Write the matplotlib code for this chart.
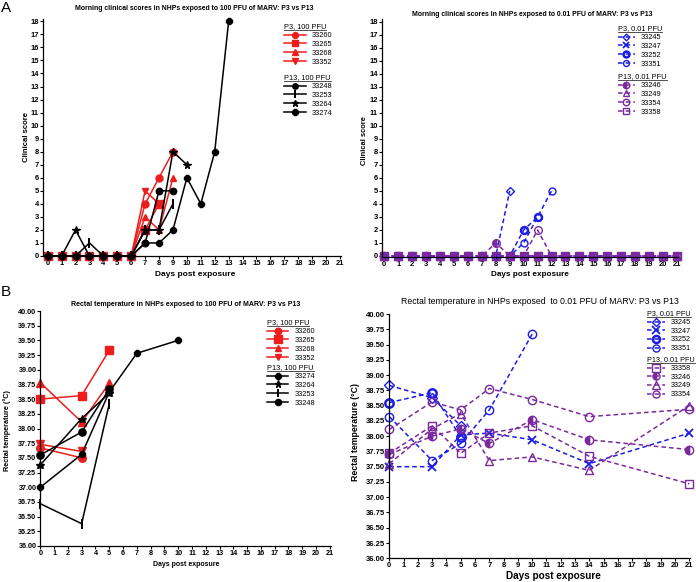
import matplotlib
matplotlib.use('Agg')
import matplotlib.pyplot as plt
from matplotlib.lines import Line2D
from matplotlib.legend import Legend
from matplotlib.transforms import IdentityTransform

plt.rcParams['font.family'] = ['Liberation Sans', 'DejaVu Sans']

W, H = 696, 582
RED = '#ee1d1d'
BLUE = '#1c1ce6'
PURPLE = '#7b2a9e'
BLACK = '#000000'

# ---------------- Data ----------------
# Panel A-left: clinical scores, 100 PFU (days start at 0, consecutive)
cs100_p3_ids = ['33260', '33265', '33268', '33352']
cs100_p3 = [
    [0, 0, 0, 0, 0, 0, 0, 4, 6, 8],
    [0, 0, 0, 0, 0, 0, 0, 2, 4],
    [0, 0, 0, 0, 0, 0, 0, 3, 2, 6],
    [0, 0, 0, 0, 0, 0, 0, 5, 4],
]
cs100_p13_ids = ['33248', '33253', '33264', '33274']
cs100_p13 = [
    [0, 0, 0, 0, 0, 0, 0, 1, 5, 5],
    [0, 0, 0, 1, 0, 0, 0, 2, 2, 4],
    [0, 0, 2, 0, 0, 0, 0, 2, 2, 8, 7],
    [0, 0, 0, 0, 0, 0, 0, 1, 1, 2, 6, 4, 8, 18],
]

# Panel A-right: clinical scores, 0.01 PFU
cs001_p3_ids = ['33245', '33247', '33252', '33351']
cs001_p3 = [
    [0, 0, 0, 0, 0, 0, 0, 0, 0, 5],
    [0, 0, 0, 0, 0, 0, 0, 0, 0, 0, 0, 0, 0, 0, 0, 0, 0, 0, 0, 0, 0, 0],
    [0, 0, 0, 0, 0, 0, 0, 0, 0, 0, 2, 3],
    [0, 0, 0, 0, 0, 0, 0, 0, 0, 0, 1, 3, 5],
]
cs001_p13_ids = ['33246', '33249', '33354', '33358']
cs001_p13 = [
    [0, 0, 0, 0, 0, 0, 0, 0, 1, 0, 0, 0, 0, 0, 0, 0, 0, 0, 0, 0, 0, 0],
    [0, 0, 0, 0, 0, 0, 0, 0, 0, 0, 0, 0, 0, 0, 0, 0, 0, 0, 0, 0, 0, 0],
    [0, 0, 0, 0, 0, 0, 0, 0, 0, 0, 0, 2, 0, 0, 0, 0, 0, 0, 0, 0, 0, 0],
    [0, 0, 0, 0, 0, 0, 0, 0, 0, 0, 0, 0, 0, 0, 0, 0, 0, 0, 0, 0, 0, 0],
]

# Panel B: rectal temperature sampling days
temp_days = [0, 3, 5, 7, 10, 14, 21]

# Panel B-left: temperature, 100 PFU
t100_p3_ids = ['33260', '33265', '33268', '33352']
t100_p3 = [
    [37.67, 37.50],
    [38.50, 38.56, 39.33],
    [38.78, 38.11, 38.77],
    [37.73, 37.61],
]
t100_p13_ids = ['33274', '33264', '33253', '33248']
t100_p13 = [
    [37.00, 37.56, 38.62, 39.28, 39.50],
    [37.38, 38.17, 38.60],
    [36.72, 36.38, 38.42],
    [37.55, 37.94, 38.67],
]

# Panel B-right: temperature, 0.01 PFU
t001_p3_ids = ['33245', '33247', '33252', '33351']
t001_p3 = [
    [38.83, 38.63, 38.17],
    [37.50, 37.50, 38.02, 38.05, 37.94, 37.55, 38.05],
    [38.55, 38.71, 37.99],
    [38.32, 37.60, 37.88, 38.43, 39.67],
]
t001_p13_ids = ['33358', '33246', '33249', '33354']
t001_p13 = [
    [37.72, 38.17, 37.72, 38.05, 38.17, 37.67, 37.22],
    [37.70, 38.00, 38.12, 37.88, 38.27, 37.94, 37.78],
    [37.55, 38.12, 38.37, 37.60, 37.66, 37.44, 38.50],
    [38.11, 38.56, 38.43, 38.78, 38.60, 38.32, 38.44],
]

# ---------------- Styles ----------------
STY = {
    '100_p3': {'33260': dict(marker='o'), '33265': dict(marker='s', ms_add=0.5),
               '33268': dict(marker='^'), '33352': dict(marker='v')},
    '100_p13': {'33248': dict(marker='o'), '33253': dict(marker='|', ms_add=2, mew=1.4),
                '33264': dict(marker='*', ms_add=1), '33274': dict(marker='8')},
    '001_p3': {'33245': dict(marker='D', open=True, ms_add=-1), '33247': dict(marker='x', mew=1.3),
               '33252': dict(marker='o', open=True, mew=1.8), '33351': dict(marker='o', open=True)},
    '001_p13': {'33246': dict(marker='o', half=True), '33249': dict(marker='^', open=True),
                '33354': dict(marker='o', open=True), '33358': dict(marker='s', open=True)},
}


def line_kwargs(style, color, dashed, ms):
    kw = dict(color=color, lw=1.1, marker=style['marker'],
              ms=ms + style.get('ms_add', 0), mec=color,
              mew=style.get('mew', 1.0), ls=(0, (3, 2)) if dashed else '-')
    if style.get('open'):
        kw['mfc'] = 'none'
    elif style.get('half'):
        kw['fillstyle'] = 'left'
        kw['mfc'] = color
        kw['markerfacecoloralt'] = 'none'
    else:
        kw['mfc'] = color
    return kw


fig = plt.figure(figsize=(W / 100, H / 100), dpi=100)


def px_axes(l, t, r, b):
    return fig.add_axes([l / W, 1 - b / H, (r - l) / W, (b - t) / H])


def style_axes(ax, xlim, ylim, yticks, yfmt, lsize):
    ax.set_xlim(*xlim)
    ax.set_ylim(*ylim)
    for s in ['top', 'right']:
        ax.spines[s].set_visible(False)
    for s in ['left', 'bottom']:
        ax.spines[s].set_linewidth(0.9)
    ax.set_xticks(range(0, 22))
    ax.set_yticks(yticks)
    ax.set_yticklabels([yfmt.format(v) for v in yticks])
    ax.tick_params(direction='out', length=2, width=0.8, labelsize=lsize, pad=0.8)
    for lbl in ax.get_xticklabels() + ax.get_yticklabels():
        lbl.set_fontweight('bold')


legends = []


def add_legend(ax, handles, labels, title, x, y, hl, fs=5.3):
    leg = Legend(ax, handles, labels, title=title, loc='upper left',
                 bbox_to_anchor=(x / W, 1 - y / H), bbox_transform=fig.transFigure,
                 frameon=False, fontsize=fs, title_fontsize=fs, handlelength=hl,
                 handletextpad=0.8, labelspacing=0.22, borderpad=0, borderaxespad=0,
                 alignment='left', numpoints=1, markerscale=0.85)
    ax.add_artist(leg)
    legends.append(leg)
    return leg


def draw_group(ax, days_list, series, ids, sty, color, dashed, ms, order=None):
    handles = {}
    idx = order if order is not None else range(len(ids))
    for i in idx:
        sid, vals = ids[i], series[i]
        kw = line_kwargs(sty[sid], color, dashed, ms)
        ax.plot(days_list[:len(vals)], vals, clip_on=False, **kw)
        handles[sid] = Line2D([], [], **kw)
    return [handles[s] for s in ids]


consec_days = list(range(0, 22))

# ---- A-left ----
axA1 = px_axes(42.8, 18.7, 340.7, 256.0)
style_axes(axA1, (-0.35, 21.05), (0, 18.2), list(range(0, 19)), '{:d}', 5.4)
h_p3 = draw_group(axA1, consec_days, cs100_p3, cs100_p3_ids, STY['100_p3'], RED, False, 5)
h_p13 = draw_group(axA1, consec_days, cs100_p13, cs100_p13_ids, STY['100_p13'], BLACK, False, 4.6)
add_legend(axA1, h_p3, cs100_p3_ids, 'P3, 100 PFU', 284, 23.5, 3.0)
add_legend(axA1, h_p13, cs100_p13_ids, 'P13, 100 PFU', 284, 74.5, 3.0)

# ---- A-right ----
axA2 = px_axes(381.5, 19.0, 677.7, 257.3)
style_axes(axA2, (-0.2, 21.05), (-0.1, 18.2), list(range(0, 19)), '{:d}', 5.4)
h_p3 = draw_group(axA2, consec_days, cs001_p3, cs001_p3_ids, STY['001_p3'], BLUE, True, 5)
h_p13 = draw_group(axA2, consec_days, cs001_p13, cs001_p13_ids, STY['001_p13'], PURPLE, True, 5.5,
                   order=[0, 2, 3, 1])
add_legend(axA2, h_p3, cs001_p3_ids, 'P3, 0.01 PFU', 618, 25.5, 2.3)
add_legend(axA2, h_p13, cs001_p13_ids, 'P13, 0.01 PFU', 618, 73.5, 2.3)

# ---- B-left ----
temp_ticks = [36 + 0.25 * i for i in range(17)]
axB1 = px_axes(40.3, 311, 330.5, 546)
style_axes(axB1, (0, 21.05), (36, 40), temp_ticks, '{:.2f}', 5.2)
h_p3 = draw_group(axB1, temp_days, t100_p3, t100_p3_ids, STY['100_p3'], RED, False, 5.5)
h_p13 = draw_group(axB1, temp_days, t100_p13, t100_p13_ids, STY['100_p13'], BLACK, False, 5.2)
add_legend(axB1, h_p3, t100_p3_ids, 'P3, 100 PFU', 267, 319.5, 2.9)
add_legend(axB1, h_p13, t100_p13_ids, 'P13, 100 PFU', 267, 364.5, 2.9)

# ---- B-right ----
axB2 = px_axes(389.3, 314, 690, 558.3)
style_axes(axB2, (0, 21.05), (36, 40), temp_ticks, '{:.2f}', 5.5)
h_p3 = draw_group(axB2, temp_days, t001_p3, t001_p3_ids, STY['001_p3'], BLUE, True, 6)
h_p13 = draw_group(axB2, temp_days, t001_p13, t001_p13_ids, STY['001_p13'], PURPLE, True, 6)
add_legend(axB2, h_p3, t001_p3_ids, 'P3, 0.01 PFU', 647, 310.5, 2.5, 5.2)
add_legend(axB2, h_p13, t001_p13_ids, 'P13, 0.01 PFU', 647, 356.5, 2.5, 5.2)

# ---- Titles, labels ----
texts = []


def ftext(x, y, s, target, weight='bold', rot=0, size=6, ha='center'):
    t = fig.text(x / W, 1 - y / H, s, ha=ha, va='center', fontsize=size,
                 fontweight=weight, rotation=rot)
    texts.append((t, target, rot))
    return t


ftext(194.5, 9, 'Morning clinical scores in NHPs exposed to 100 PFU of MARV: P3 vs P13', 241)
ftext(532.5, 14, 'Morning clinical scores in NHPs exposed to 0.01 PFU of MARV: P3 vs P13', 245)
ftext(186, 304, 'Rectal temperature in NHPs exposed to 100 PFU of MARV: P3 vs P13', 232)
ftext(540, 302, 'Rectal temperature in NHPs exposed  to 0.01 PFU of MARV: P3 vs P13', 280, weight='normal')

ftext(195, 275, 'Days post exposure', 81)
ftext(530, 275, 'Days post exposure', 79)
ftext(186, 564, 'Days post exposure', 67)
ftext(553, 576, 'Days post exposure', 97)

ftext(26, 137, 'Clinical score', 52, rot=90)
ftext(364, 141, 'Clinical score', 50, rot=90)
ftext(7, 431, 'Rectal temperature (\u00b0C)', 82, rot=90)
ftext(355, 432, 'Rectal temperature (\u00b0C)', 100, rot=90)

fig.text(1 / W, 1 - 8 / H, 'A', fontsize=11, ha='left', va='center')
fig.text(1 / W, 1 - 292 / H, 'B', fontsize=11, ha='left', va='center')

fig.canvas.draw()
r = fig.canvas.get_renderer()
for t, target, rot in texts:
    bb = t.get_window_extent(r)
    length = bb.height if rot else bb.width
    t.set_fontsize(t.get_fontsize() * target / length)

fig.canvas.draw()
r = fig.canvas.get_renderer()
for leg in legends:
    bb = leg.get_title().get_window_extent(r)
    fig.add_artist(Line2D([bb.x0, bb.x1], [bb.y0 + 0.5, bb.y0 + 0.5], transform=IdentityTransform(),
                          color='#333333', lw=0.6))

fig.savefig('out.png', dpi=100)
